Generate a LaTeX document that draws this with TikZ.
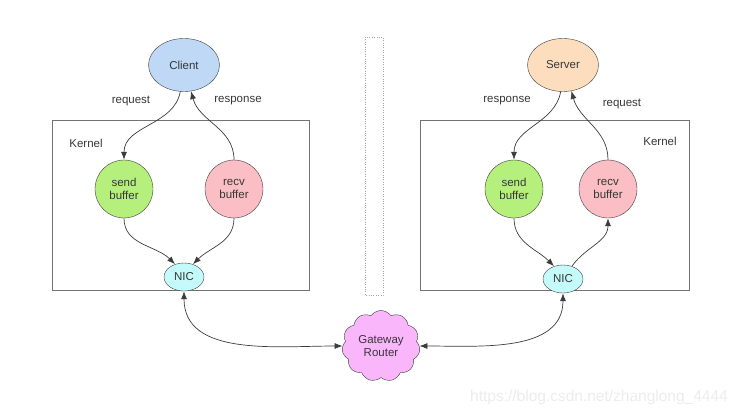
\documentclass[tikz,border=0pt]{standalone}
\usepackage{fontspec}
\setmainfont{Liberation Sans}
\usetikzlibrary{positioning,shapes.geometric,shapes.symbols,arrows.meta}

\definecolor{clientblue}{RGB}{190,216,246}
\definecolor{serverpeach}{RGB}{252,222,190}
\definecolor{sendgreen}{RGB}{182,240,124}
\definecolor{recvpink}{RGB}{250,190,196}
\definecolor{niccyan}{RGB}{196,250,250}
\definecolor{gatepink}{RGB}{250,182,250}
\definecolor{linegray}{RGB}{60,60,60}
\definecolor{textgray}{RGB}{55,55,55}

\tikzset{
  bigtip/.tip={Latex[length=8pt,width=6pt]},
  host/.style={ellipse,draw=linegray,minimum width=71pt,minimum height=53pt},
  buf/.style={circle,draw=linegray,minimum size=58pt,align=center,inner sep=0pt},
  nic/.style={ellipse,draw=linegray,fill=niccyan,minimum width=40pt,minimum height=28pt,inner sep=0pt},
  kernelbox/.style={draw=gray!90!black,line width=0.9pt},
  link/.style={draw=linegray,line width=0.7pt,-{bigtip}}
}

\begin{document}
\begin{tikzpicture}[x=1pt,y=1pt,font=\fontsize{11.5}{13.5}\selectfont,text=textgray]
        \useasboundingbox (0,0) rectangle (741,-415);
        % kernel boxes and middle gap
        \draw[kernelbox] (52,-120) rectangle (309,-290);
        \draw[kernelbox] (420,-120) rectangle (689,-290);
        \draw[gray!70,dotted] (365,-37) rectangle (383,-295);
        \node(KL) at (86,-143) {Kernel};
        \node(KR) at (660,-141) {Kernel};

        % client side
        \node(C) [host,fill=clientblue] at (184,-65) {Client};
        \node(SL) [buf,fill=sendgreen] at (124,-189) {send\\buffer};
        \node(RL) [buf,fill=recvpink] at (234,-189) {recv\\buffer};
        \node(NL) [nic] at (184,-277) {NIC};
        \node(qL) at (131,-101) {request};
        \node(pL) at (238,-101) {response};

        % server side
        \node(S) [host,fill=serverpeach] at (563,-65) {Server};
        \node(SR) [buf,fill=sendgreen] at (514,-189) {send\\buffer};
        \node(RR) [buf,fill=recvpink] at (608,-189) {recv\\buffer};
        \node(NR) [nic] at (563,-279) {NIC};
        \node(pR) at (507,-101) {response};
        \node(qR) at (622,-104) {request};

        % router
        \node(G) [cloud,cloud puffs=11,cloud puff arc=110,draw=linegray,fill=gatepink,
                  minimum width=78pt,minimum height=62pt,align=center,inner sep=0pt] at (381,-346) {Gateway\\Router};

        \draw[link] (C.262) to[out=-100,in=90] (SL.north);
        \draw[link] (RL.north) to[out=90,in=-75] (C.285);
        \draw[link] (SL.south) to[out=-90,in=135] (NL.125);
        \draw[link] (RL.south) to[out=-90,in=45] (NL.55);

        \draw[link] (S.265) to[out=-100,in=90] (SR.north);
        \draw[link] (RR.north) to[out=90,in=-75] (S.288);
        \draw[link] (SR.south) to[out=-90,in=135] (NR.125);
        \draw[link] (NR.55) to[out=55,in=-90] (RR.south);

        \draw[link,{bigtip}-{bigtip}] (NL.south) to[out=-90,in=180] (G.west);
        \draw[link,{bigtip}-{bigtip}] (NR.south) to[out=-90,in=0] (G.east);

        \node(W) [text=gray!15,font=\fontsize{15.5}{17}\selectfont] at (599,-397) {https://blog.csdn.net/zhanglong\_4444};
    \end{tikzpicture}
\end{document}
